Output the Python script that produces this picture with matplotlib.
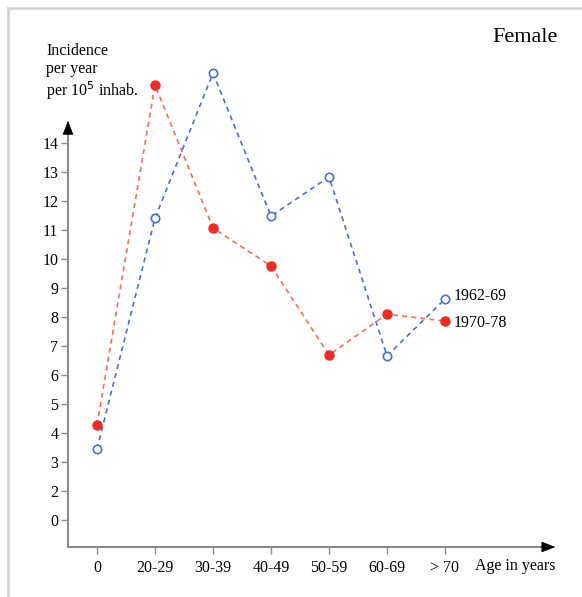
import matplotlib.pyplot as plt
from matplotlib.lines import Line2D

ages = ["0", "20-29", "30-39", "40-49", "50-59", "60-69", "> 70"]
inc_1962_69 = [3.45, 11.41, 16.41, 11.48, 12.83, 6.66, 8.62]
inc_1970_78 = [4.28, 16.0, 11.07, 9.76, 6.69, 8.10, 7.86]
ytick_pos = list(range(1, 15))
ytick_labels = ["0"] + [str(v) for v in range(2, 15)]

plt.rcParams["font.family"] = ["Liberation Serif", "DejaVu Serif"]

fig = plt.figure(figsize=(5.82, 5.97), dpi=100)
W, H = 582, 597
x0, x1 = -0.5, 8.0
y0, y1 = 0.07, 17.5
ax = fig.add_axes([68 / W, 1 - 547 / H, (561 - 68) / W, (547 - 41.5) / H])
ax.set_xlim(x0, x1)
ax.set_ylim(y0, y1)
for s in ax.spines.values():
    s.set_visible(False)

# frame around the picture
fig.add_artist(Line2D([8 / W, 8 / W], [0, 1 - 8 / H], color="#d0d0d0", lw=1.8))
fig.add_artist(Line2D([8 / W, 1], [1 - 8 / H, 1 - 8 / H], color="#d0d0d0", lw=1.8))

# axis lines with arrows
gray = "#8a8a8a"
ax.plot([x0, x0], [y0, 14.6], color=gray, lw=1.5, clip_on=False)
ax.plot([x0, 7.8], [y0, y0], color=gray, lw=1.5, clip_on=False)
arrow = dict(arrowstyle="-|>,head_length=0.9,head_width=0.35", color="black", lw=0.5)
ax.annotate("", xy=(x0, 14.86), xytext=(x0, 14.3), arrowprops=arrow, annotation_clip=False)
ax.annotate("", xy=(7.95, y0), xytext=(7.6, y0), arrowprops=arrow, annotation_clip=False)

ax.set_yticks(ytick_pos)
ax.set_yticklabels(ytick_labels)
ax.set_xticks(range(len(ages)))
ax.set_xticklabels(ages)
ax.tick_params(axis="y", direction="out", length=5, width=1, color=gray, pad=2, labelsize=11.5)
ax.tick_params(axis="x", direction="out", length=5, width=1, color=gray, pad=4, labelsize=11.5)

xs = range(len(ages))
ax.plot(xs, inc_1962_69, color="#4a6fd0", ls=(0, (3, 2.5)), lw=1.2, marker="o",
        ms=6, mfc="white", mec="#4a6fd0", mew=1.2, clip_on=False, zorder=3)
ax.plot(xs, inc_1970_78, color="#f2705c", ls=(0, (3, 2.5)), lw=1.2, zorder=2)
ax.plot(xs, inc_1970_78, ls="none", marker="o", ms=6.5, color="#ee2a22", zorder=4)

ax.text(6.15, inc_1962_69[-1] + 0.1, "1962-69", fontsize=11.5, va="center", ha="left")
ax.text(6.15, inc_1970_78[-1] - 0.05, "1970-78", fontsize=11.5, va="center", ha="left")

fig.text(492 / W, 1 - 37 / H, "Female", fontsize=16, va="center", ha="left")
fig.text(46 / W, 1 - 43 / H, "Incidence\nper year\nper 10$^5$ inhab.", fontsize=11.5,
         va="top", ha="left", linespacing=1.15)
fig.text(475 / W, 1 - 566 / H, "Age in years", fontsize=11.5, va="center", ha="left")

fig.savefig("out.png", dpi=100)
